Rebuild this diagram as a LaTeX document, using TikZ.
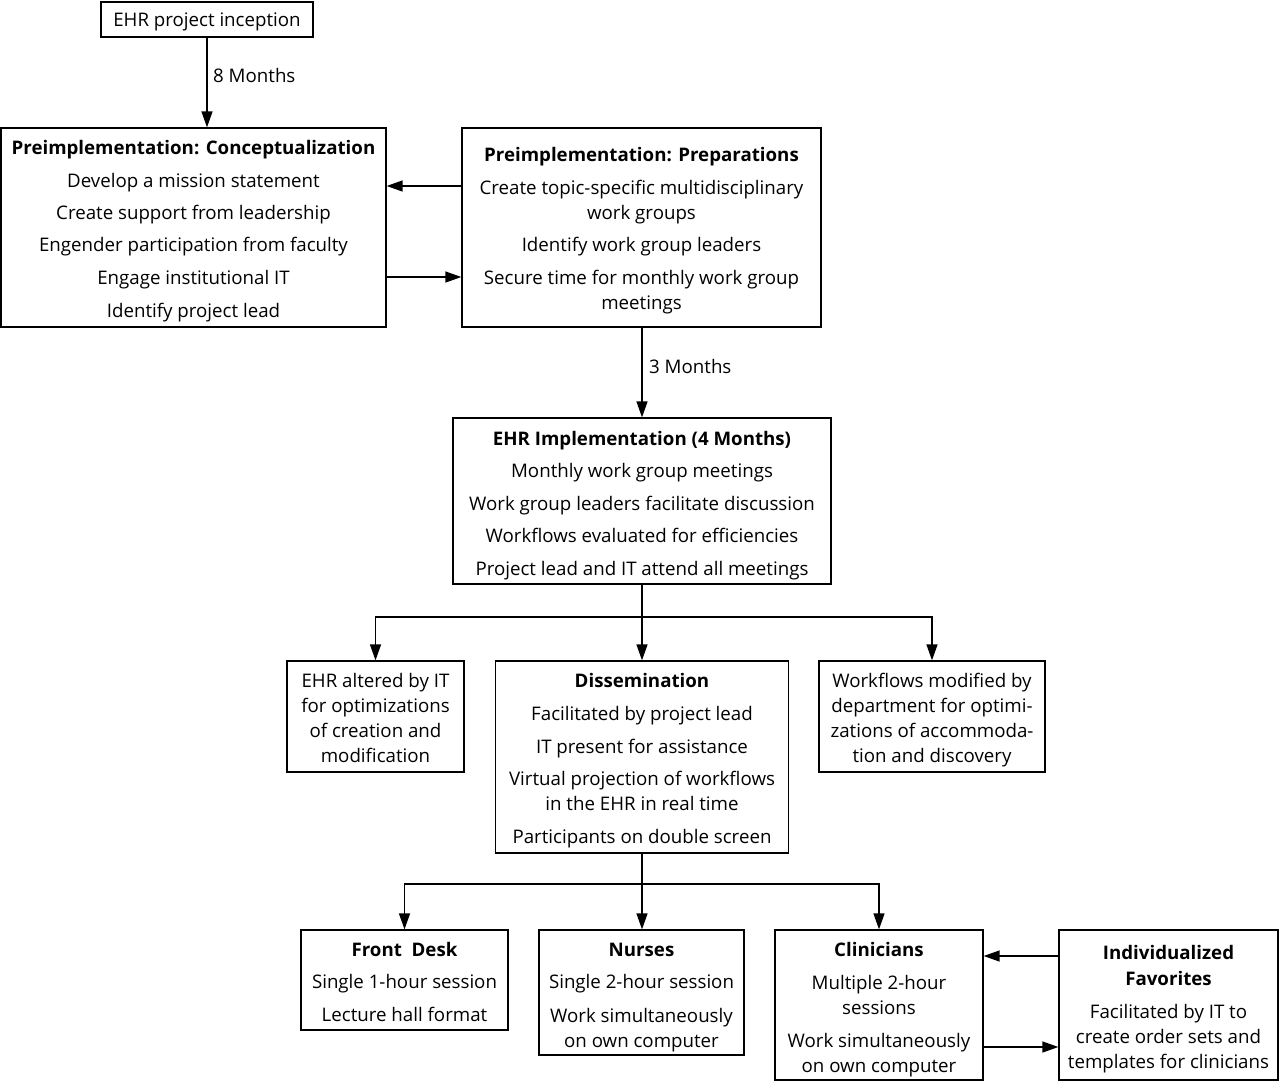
\documentclass[tikz,border=0pt]{standalone}
\usepackage{fontspec}
\setmainfont{Open Sans}
\usetikzlibrary{arrows.meta}
\tikzset{
  box/.style={draw, line width=1.3pt, inner sep=0pt, minimum width=#1},
  txt/.style={inner sep=0pt, text height=18pt, text depth=3pt, font=\fontsize{18.7}{22}\selectfont},
  txtb/.style={txt, font=\fontsize{18.7}{22}\selectfont\bfseries},
  arr/.style={line width=1.4pt, -{Triangle[length=16pt,width=11pt]}},
  ln/.style={line width=1.4pt}
}
\newcommand\tl[4]{\node[txt] (#1) at (#2,#3) {#4};}
\newcommand\tb[4]{\node[txtb] (#1) at (#2,#3) {#4};}
\begin{document}
\begin{tikzpicture}[x=1pt,y=-1pt]
\useasboundingbox (0,0) rectangle (1280,1082);
% boxes
\node[box=212pt, minimum height=35pt] (inc) at (207,19.5) {};
\node[box=385pt, minimum height=199pt] (con) at (193.5,227.5) {};
\node[box=359pt, minimum height=199pt] (prep) at (641.5,227.5) {};
\node[box=378pt, minimum height=166pt] (impl) at (642,501) {};
\node[box=177pt, minimum height=111pt] (alt) at (375.5,716.5) {};
\node[box=293pt, minimum height=192pt] (dis) at (642,757) {};
\node[box=226pt, minimum height=111pt] (wf) at (932,716.5) {};
\node[box=207pt, minimum height=100pt] (fd) at (404.5,980) {};
\node[box=205pt, minimum height=125pt] (nu) at (641.5,992.5) {};
\node[box=208pt, minimum height=150pt] (cl) at (879,1005) {};
\node[box=219pt, minimum height=150pt] (ind) at (1168.5,1005) {};
% texts
\tl{a1}{207}{19}{EHR project inception}
\tb{b0}{193.5}{147}{Preimplementation: Conceptualization}
\tl{b1}{193.5}{180}{Develop a mission statement}
\tl{b2}{193.5}{212}{Create support from leadership}
\tl{b3}{193.5}{244}{Engender participation from faculty}
\tl{b4}{193.5}{277}{Engage institutional IT}
\tl{b5}{193.5}{310}{Identify project lead}
\tb{c0}{641.5}{154}{Preimplementation: Preparations}
\tl{c1}{641.5}{187}{Create topic-specific multidisciplinary}
\tl{c2}{641.5}{212}{work groups}
\tl{c3}{641.5}{244}{Identify work group leaders}
\tl{c4}{641.5}{277}{Secure time for monthly work group}
\tl{c5}{641.5}{302}{meetings}
\tb{d0}{642}{438}{EHR Implementation (4 Months)}
\tl{d1}{642}{470}{Monthly work group meetings}
\tl{d2}{642}{503}{Work group leaders facilitate discussion}
\tl{d3}{642}{535}{Workflows evaluated for efficiencies}
\tl{d4}{642}{568}{Project lead and IT attend all meetings}
\tl{e1}{375.5}{680}{EHR altered by IT}
\tl{e2}{375.5}{705}{for optimizations}
\tl{e3}{375.5}{730}{of creation and}
\tl{e4}{375.5}{755}{modification}
\tb{f0}{642}{680}{Dissemination}
\tl{f1}{642}{713}{Facilitated by project lead}
\tl{f2}{642}{746}{IT present for assistance}
\tl{f3}{642}{778}{Virtual projection of workflows}
\tl{f4}{642}{803}{in the EHR in real time}
\tl{f5}{642}{836}{Participants on double screen}
\tl{g1}{932}{680}{Workflows modified by}
\tl{g2}{932}{705}{department for optimi-}
\tl{g3}{932}{730}{zations of accommoda-}
\tl{g4}{932}{755}{tion and discovery}
\tb{h0}{404.5}{949}{Front\ \ Desk}
\tl{h1}{404.5}{981}{Single 1-hour session}
\tl{h2}{404.5}{1014}{Lecture hall format}
\tb{i0}{641.5}{949}{Nurses}
\tl{i1}{641.5}{981}{Single 2-hour session}
\tl{i2}{641.5}{1015}{Work simultaneously}
\tl{i3}{641.5}{1040}{on own computer}
\tb{j0}{879}{949}{Clinicians}
\tl{j1}{879}{982}{Multiple 2-hour}
\tl{j2}{879}{1007}{sessions}
\tl{j3}{879}{1040}{Work simultaneously}
\tl{j4}{879}{1065}{on own computer}
\tb{k0}{1168.5}{952}{Individualized}
\tb{k1}{1168.5}{978}{Favorites}
\tl{k2}{1168.5}{1011}{Facilitated by IT to}
\tl{k3}{1168.5}{1036}{create order sets and}
\tl{k4}{1168.5}{1061}{templates for clinicians}
% labels
\node[txt, anchor=west] (m8) at (213,75) {8 Months};
\node[txt, anchor=west] (m3) at (649,366) {3 Months};
% connectors
\draw[arr] (inc.south) -- (inc.south |- con.north);
\draw[arr] (prep.west |- {(0,186)}) -- (con.east |- {(0,186)});
\draw[arr] (con.east |- {(0,277)}) -- (prep.west |- {(0,277)});
\draw[arr] (prep.south -| impl.north) -- (impl.north);
\coordinate (jA) at (642,617);
\draw[ln] (impl.south) -- (jA);
\draw[arr] (jA) -| (alt.north);
\draw[arr] (jA) -| (wf.north);
\draw[arr] (jA) -- (dis.north);
\coordinate (jB) at (642,884);
\draw[ln] (dis.south) -- (jB);
\draw[arr] (jB) -| (fd.north);
\draw[arr] (jB) -| (cl.north);
\draw[arr] (jB) -- (jB |- nu.north);
\draw[arr] (ind.west |- {(0,956)}) -- (cl.east |- {(0,956)});
\draw[arr] (cl.east |- {(0,1047)}) -- (ind.west |- {(0,1047)});
\end{tikzpicture}
\end{document}
